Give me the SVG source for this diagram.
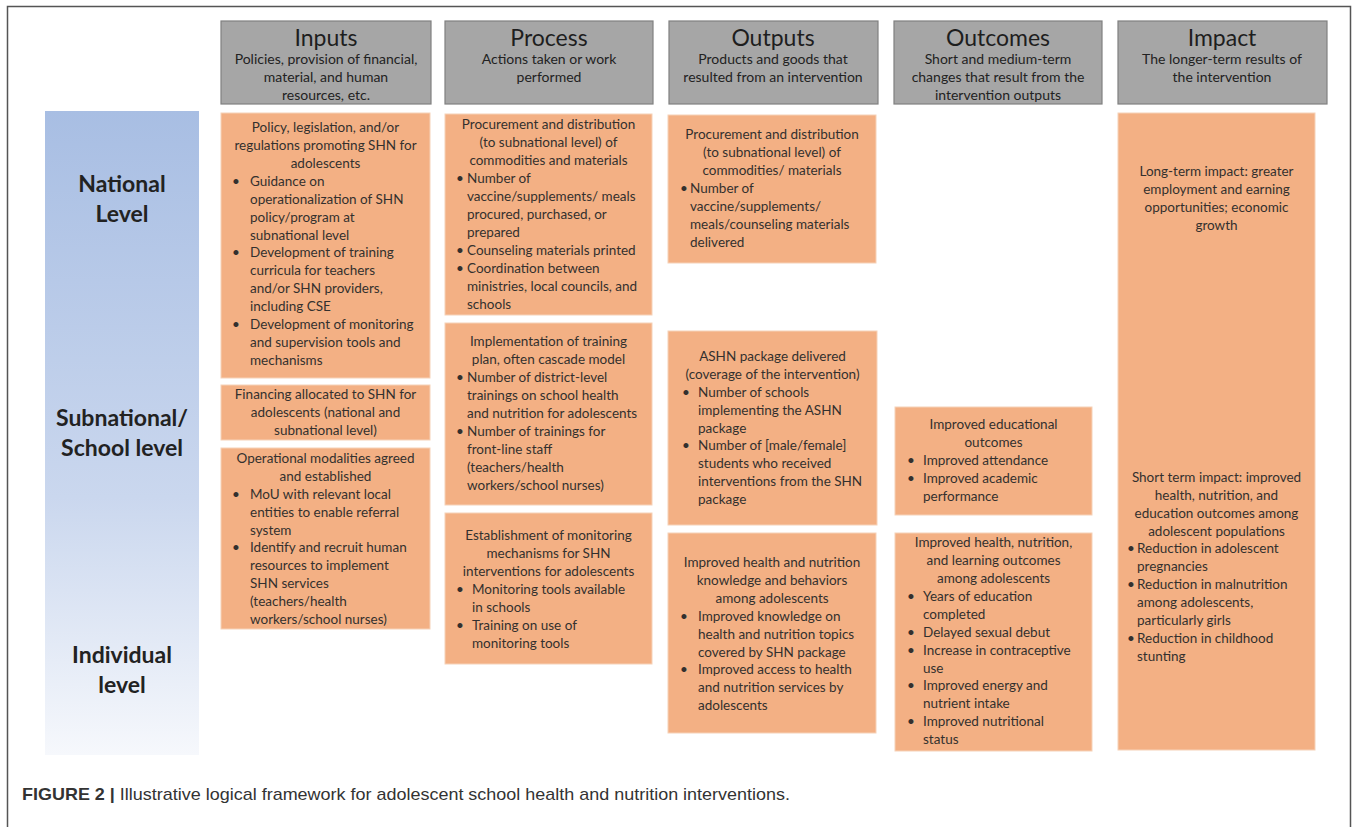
<svg xmlns="http://www.w3.org/2000/svg" width="1357" height="827" viewBox="0 0 1357 827">
<style>
.hdr{fill:#a6a6a6;stroke:#808080;stroke-width:1.2}
.box{fill:#f3b084;stroke:#f6d2b8;stroke-width:1}
.t{font-family:Lato,"Open Sans",sans-serif;font-size:13.5px;fill:#33302e}
.c{text-anchor:middle}
.ht{font-family:Lato,"Open Sans",sans-serif;font-size:23px;fill:#1e1e1e;text-anchor:middle}
.hs{font-family:Lato,"Open Sans",sans-serif;font-size:14px;fill:#222;text-anchor:middle}
.lv{font-family:Lato,"Open Sans",sans-serif;font-size:23px;font-weight:bold;fill:#222;text-anchor:middle}
.cap{font-family:"Liberation Sans",Arial,sans-serif;font-size:17px;fill:#333}
</style>
<defs>
<linearGradient id="blue" x1="0" y1="0" x2="0" y2="1">
<stop offset="0" stop-color="#a8bee3"/>
<stop offset="0.6" stop-color="#cad7ee"/>
<stop offset="1" stop-color="#f6f8fc"/>
</linearGradient>
</defs>
<rect x="0" y="0" width="1357" height="827" fill="#ffffff"/>
<path d="M7.5,827 V6.5 H1350.5 V827" fill="none" stroke="#555" stroke-width="1.5"/>

<g id="levels">
<rect x="45" y="111" width="154" height="644" fill="url(#blue)"/>
<text class="lv" x="122" y="192">National</text>
<text class="lv" x="122" y="222">Level</text>
<text class="lv" x="122" y="426">Subnational/</text>
<text class="lv" x="122" y="456">School level</text>
<text class="lv" x="122" y="663">Individual</text>
<text class="lv" x="122" y="693">level</text>
</g>

<g id="hdr-inputs">
<rect class="hdr" x="221" y="21" width="210" height="83"/>
<text class="ht" x="326" y="46">Inputs</text>
<text class="hs" x="326" y="64">Policies, provision of financial,</text>
<text class="hs" x="326" y="82">material, and human</text>
<text class="hs" x="326" y="100">resources, etc.</text>
</g>
<g id="hdr-process">
<rect class="hdr" x="445" y="21" width="208" height="83"/>
<text class="ht" x="549" y="46">Process</text>
<text class="hs" x="549" y="64">Actions taken or work</text>
<text class="hs" x="549" y="82">performed</text>
</g>
<g id="hdr-outputs">
<rect class="hdr" x="669" y="21" width="209" height="83"/>
<text class="ht" x="773" y="46">Outputs</text>
<text class="hs" x="773" y="64">Products and goods that</text>
<text class="hs" x="773" y="82">resulted from an intervention</text>
</g>
<g id="hdr-outcomes">
<rect class="hdr" x="894" y="21" width="208" height="83"/>
<text class="ht" x="998" y="46">Outcomes</text>
<text class="hs" x="998" y="64">Short and medium-term</text>
<text class="hs" x="998" y="82">changes that result from the</text>
<text class="hs" x="998" y="100">intervention outputs</text>
</g>
<g id="hdr-impact">
<rect class="hdr" x="1118" y="21" width="209" height="83"/>
<text class="ht" x="1222" y="46">Impact</text>
<text class="hs" x="1222" y="64">The longer-term results of</text>
<text class="hs" x="1222" y="82">the intervention</text>
</g>

<g id="inputs-policy">
<rect class="box" x="221" y="113" width="209" height="265"/>
<text class="t c" x="325.5" y="132">Policy, legislation, and/or</text>
<text class="t c" x="325.5" y="150">regulations promoting SHN for</text>
<text class="t c" x="325.5" y="168">adolescents</text>
<text class="t" x="232" y="186">•</text><text class="t" x="250" y="186">Guidance on</text>
<text class="t" x="250" y="204">operationalization of SHN</text>
<text class="t" x="250" y="222">policy/program at</text>
<text class="t" x="250" y="240">subnational level</text>
<text class="t" x="232" y="257">•</text><text class="t" x="250" y="257">Development of training</text>
<text class="t" x="250" y="275">curricula for teachers</text>
<text class="t" x="250" y="293">and/or SHN providers,</text>
<text class="t" x="250" y="311">including CSE</text>
<text class="t" x="232" y="329">•</text><text class="t" x="250" y="329">Development of monitoring</text>
<text class="t" x="250" y="347">and supervision tools and</text>
<text class="t" x="250" y="365">mechanisms</text>
</g>
<g id="inputs-financing">
<rect class="box" x="221" y="385" width="209" height="55"/>
<text class="t c" x="325.5" y="399">Financing allocated to SHN for</text>
<text class="t c" x="325.5" y="417">adolescents (national and</text>
<text class="t c" x="325.5" y="435">subnational level)</text>
</g>
<g id="inputs-operational">
<rect class="box" x="221" y="448" width="209" height="181"/>
<text class="t c" x="325.5" y="463">Operational modalities agreed</text>
<text class="t c" x="325.5" y="481">and established</text>
<text class="t" x="232" y="499">•</text><text class="t" x="250" y="499">MoU with relevant local</text>
<text class="t" x="250" y="517">entities to enable referral</text>
<text class="t" x="250" y="535">system</text>
<text class="t" x="232" y="552">•</text><text class="t" x="250" y="552">Identify and recruit human</text>
<text class="t" x="250" y="570">resources to implement</text>
<text class="t" x="250" y="588">SHN services</text>
<text class="t" x="250" y="606">(teachers/health</text>
<text class="t" x="250" y="624">workers/school nurses)</text>
</g>

<g id="process-procurement">
<rect class="box" x="445" y="114" width="207" height="201"/>
<text class="t c" x="548.5" y="129">Procurement and distribution</text>
<text class="t c" x="548.5" y="147">(to subnational level) of</text>
<text class="t c" x="548.5" y="165">commodities and materials</text>
<text class="t" x="456" y="183">•</text><text class="t" x="467" y="183">Number of</text>
<text class="t" x="467" y="201">vaccine/supplements/  meals</text>
<text class="t" x="467" y="219">procured, purchased, or</text>
<text class="t" x="467" y="237">prepared</text>
<text class="t" x="456" y="255">•</text><text class="t" x="467" y="255">Counseling materials printed</text>
<text class="t" x="456" y="273">•</text><text class="t" x="467" y="273">Coordination between</text>
<text class="t" x="467" y="291">ministries, local councils, and</text>
<text class="t" x="467" y="309">schools</text>
</g>
<g id="process-training">
<rect class="box" x="445" y="323" width="207" height="182"/>
<text class="t c" x="548.5" y="346">Implementation of training</text>
<text class="t c" x="548.5" y="364">plan, often cascade model</text>
<text class="t" x="456" y="382">•</text><text class="t" x="467" y="382">Number of district-level</text>
<text class="t" x="467" y="400">trainings on school health</text>
<text class="t" x="467" y="418">and nutrition for adolescents</text>
<text class="t" x="456" y="436">•</text><text class="t" x="467" y="436">Number of trainings for</text>
<text class="t" x="467" y="454">front-line staff</text>
<text class="t" x="467" y="472">(teachers/health</text>
<text class="t" x="467" y="490">workers/school nurses)</text>
</g>
<g id="process-monitoring">
<rect class="box" x="445" y="513" width="207" height="151"/>
<text class="t c" x="548.5" y="540">Establishment of monitoring</text>
<text class="t c" x="548.5" y="558">mechanisms for SHN</text>
<text class="t c" x="548.5" y="576">interventions for adolescents</text>
<text class="t" x="456" y="594">•</text><text class="t" x="472" y="594">Monitoring tools available</text>
<text class="t" x="472" y="612">in schools</text>
<text class="t" x="456" y="630">•</text><text class="t" x="472" y="630">Training on use of</text>
<text class="t" x="472" y="648">monitoring tools</text>
</g>

<g id="outputs-procurement">
<rect class="box" x="668" y="115" width="208" height="148"/>
<text class="t c" x="772" y="139">Procurement and distribution</text>
<text class="t c" x="772" y="157">(to subnational level) of</text>
<text class="t c" x="772" y="175">commodities/ materials</text>
<text class="t" x="680" y="193">•</text><text class="t" x="690" y="193">Number of</text>
<text class="t" x="690" y="211">vaccine/supplements/</text>
<text class="t" x="690" y="229">meals/counseling materials</text>
<text class="t" x="690" y="247">delivered</text>
</g>
<g id="outputs-ashn">
<rect class="box" x="668" y="331" width="209" height="194"/>
<text class="t c" x="772.5" y="361">ASHN package delivered</text>
<text class="t c" x="772.5" y="379">(coverage of the intervention)</text>
<text class="t" x="682" y="397">•</text><text class="t" x="698" y="397">Number of schools</text>
<text class="t" x="698" y="415">implementing the ASHN</text>
<text class="t" x="698" y="433">package</text>
<text class="t" x="682" y="450">•</text><text class="t" x="698" y="450">Number of [male/female]</text>
<text class="t" x="698" y="468">students who received</text>
<text class="t" x="698" y="486">interventions from the SHN</text>
<text class="t" x="698" y="504">package</text>
</g>
<g id="outputs-knowledge">
<rect class="box" x="668" y="533" width="208" height="200"/>
<text class="t c" x="772" y="567">Improved health and nutrition</text>
<text class="t c" x="772" y="585">knowledge and behaviors</text>
<text class="t c" x="772" y="603">among adolescents</text>
<text class="t" x="680" y="621">•</text><text class="t" x="698" y="621">Improved knowledge on</text>
<text class="t" x="698" y="639">health and nutrition topics</text>
<text class="t" x="698" y="657">covered by SHN package</text>
<text class="t" x="680" y="674">•</text><text class="t" x="698" y="674">Improved access to health</text>
<text class="t" x="698" y="692">and nutrition services by</text>
<text class="t" x="698" y="710">adolescents</text>
</g>

<g id="outcomes-education">
<rect class="box" x="895" y="407" width="197" height="108"/>
<text class="t c" x="993.5" y="429">Improved educational</text>
<text class="t c" x="993.5" y="447">outcomes</text>
<text class="t" x="907" y="465">•</text><text class="t" x="923" y="465">Improved attendance</text>
<text class="t" x="907" y="483">•</text><text class="t" x="923" y="483">Improved academic</text>
<text class="t" x="923" y="501">performance</text>
</g>
<g id="outcomes-health">
<rect class="box" x="895" y="533" width="197" height="218"/>
<text class="t c" x="993.5" y="547">Improved health, nutrition,</text>
<text class="t c" x="993.5" y="565">and learning outcomes</text>
<text class="t c" x="993.5" y="583">among adolescents</text>
<text class="t" x="907" y="601">•</text><text class="t" x="923" y="601">Years of education</text>
<text class="t" x="923" y="619">completed</text>
<text class="t" x="907" y="637">•</text><text class="t" x="923" y="637">Delayed sexual debut</text>
<text class="t" x="907" y="655">•</text><text class="t" x="923" y="655">Increase in contraceptive</text>
<text class="t" x="923" y="673">use</text>
<text class="t" x="907" y="690">•</text><text class="t" x="923" y="690">Improved energy and</text>
<text class="t" x="923" y="708">nutrient intake</text>
<text class="t" x="907" y="726">•</text><text class="t" x="923" y="726">Improved nutritional</text>
<text class="t" x="923" y="744">status</text>
</g>

<g id="impact">
<rect class="box" x="1118" y="113" width="197" height="637"/>
<text class="t c" x="1216.5" y="176">Long-term impact: greater</text>
<text class="t c" x="1216.5" y="194">employment and earning</text>
<text class="t c" x="1216.5" y="212">opportunities; economic</text>
<text class="t c" x="1216.5" y="230">growth</text>
<text class="t c" x="1216.5" y="482">Short term impact: improved</text>
<text class="t c" x="1216.5" y="500">health, nutrition, and</text>
<text class="t c" x="1216.5" y="518">education outcomes among</text>
<text class="t c" x="1216.5" y="536">adolescent populations</text>
<text class="t" x="1127" y="553">•</text><text class="t" x="1137" y="553">Reduction in adolescent</text>
<text class="t" x="1137" y="571">pregnancies</text>
<text class="t" x="1127" y="589">•</text><text class="t" x="1137" y="589">Reduction in malnutrition</text>
<text class="t" x="1137" y="607">among adolescents,</text>
<text class="t" x="1137" y="625">particularly girls</text>
<text class="t" x="1127" y="643">•</text><text class="t" x="1137" y="643">Reduction in childhood</text>
<text class="t" x="1137" y="661">stunting</text>
</g>

<text class="cap" x="22" y="800" textLength="768" lengthAdjust="spacingAndGlyphs"><tspan font-weight="bold">FIGURE 2 |</tspan> Illustrative logical framework for adolescent school health and nutrition interventions.</text>
</svg>
